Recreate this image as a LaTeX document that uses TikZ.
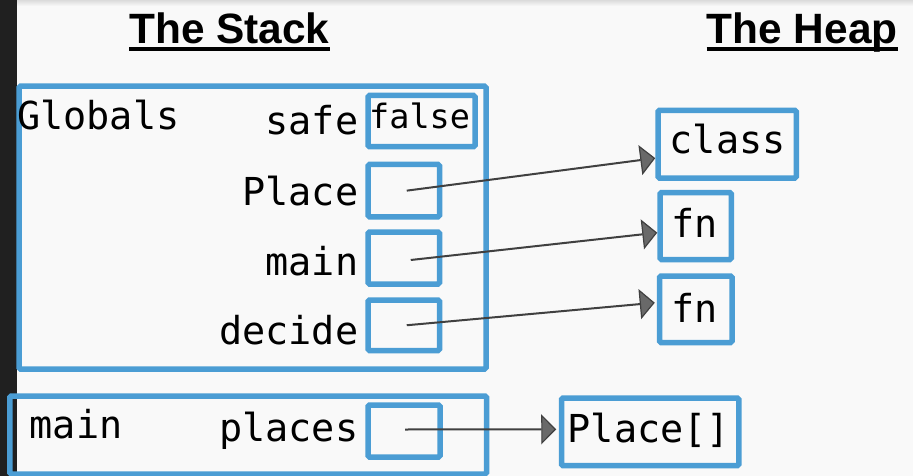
\documentclass[tikz,border=0pt]{standalone}
\usepackage{fontspec}
\setmainfont{Liberation Sans}
\newfontfamily\codefont{DejaVu Sans Mono}
\usetikzlibrary{arrows.meta}

\definecolor{memblue}{RGB}{75,157,212}
\definecolor{pagebg}{RGB}{249,249,249}
\definecolor{sidebar}{RGB}{32,32,32}
\definecolor{ptrline}{RGB}{64,64,64}
\definecolor{ptrhead}{RGB}{105,105,105}

\begin{document}
\begin{tikzpicture}[x=1pt,y=-1pt,
  membox/.style={draw=memblue,line width=5.5pt,rounded corners=1.5pt,
    inner sep=0pt,rectangle},
  heading/.style={inner sep=0pt,font=\bfseries\fontsize{42.4}{42.4}\selectfont},
  code/.style={inner sep=0pt,font=\codefont\fontsize{38.5}{38.5}\selectfont},
  smallcode/.style={inner sep=0pt,font=\codefont\fontsize{33.5}{33.5}\selectfont},
  ptr/.style={draw=ptrline,line width=2pt,
    -{Triangle[length=15pt,width=30pt,fill=ptrhead,line width=1.2pt]}}]

% page, side bar and top shadow
\useasboundingbox (0,0) rectangle (913,476);
\fill[pagebg] (0,0) rectangle (913,476);
\shade[top color=black!14,bottom color=pagebg] (0,0) rectangle (913,6);
\fill[sidebar] (0,0) rectangle (17,476);

% headings
\node[heading,anchor=base west] (stackT) at (129,43.3) {The Stack};
\node[heading,anchor=base west] (heapT) at (706.5,43.3) {The Heap};
\draw[line width=4pt] ([yshift=-5.7pt]stackT.base west) -- ([yshift=-5.7pt]stackT.base east);
\draw[line width=4pt] ([yshift=-5.7pt]heapT.base west) -- ([yshift=-5.7pt]heapT.base east);

% stack frames
\node[membox,minimum width=467pt,minimum height=282.8pt] (globals) at (252.5,227.6) {};
\node[membox,minimum width=476.7pt,minimum height=78pt] (mainframe) at (248.15,435) {};

% frame labels
\node[code,anchor=base west] (globalsL) at (17,129.3) {Globals};
\node[code,anchor=base west] (mainL) at (29.5,438.3) {main};

% variable names
\node[code,anchor=base east] (safeL) at (358.5,135) {safe};
\node[code,anchor=base east] (placeL) at (358.5,205) {Place};
\node[code,anchor=base east] (mainvL) at (358.5,275) {main};
\node[code,anchor=base east] (decideL) at (358.5,344.3) {decide};
\node[code,anchor=base east] (placesL) at (358.5,441.7) {places};

% variable slots
\node[membox,minimum width=107pt,minimum height=51.2pt] (safeS) at (421.5,121.1) {};
\node[smallcode,anchor=base west] (falseV) at (369,128.3) {false};
\node[membox,minimum width=71.5pt,minimum height=52.3pt] (placeS) at (403.75,190.65) {};
\node[membox,minimum width=71.5pt,minimum height=52pt] (mainS) at (403.75,258) {};
\node[membox,minimum width=71.5pt,minimum height=50.5pt] (decideS) at (403.75,325.25) {};
\node[membox,minimum width=72pt,minimum height=52pt] (placesS) at (404,431) {};

% heap objects
\node[membox,minimum width=138.3pt,minimum height=67.7pt] (classH) at (727.15,144.15) {};
\node[code,anchor=base west] (classT) at (669.5,153.3) {class};
\node[membox,minimum width=71.3pt,minimum height=67pt] (fnA) at (695.65,226) {};
\node[code,anchor=base west] (fnAT) at (671,237) {fn};
\node[membox,minimum width=72.5pt,minimum height=66.5pt] (fnB) at (695.75,309.25) {};
\node[code,anchor=base west] (fnBT) at (671,322.3) {fn};
\node[membox,minimum width=177.3pt,minimum height=67.7pt] (arrH) at (650.15,431.85) {};
\node[code,anchor=base west] (arrT) at (567.5,442.3) {Place[]};

% pointer ends on the heap objects
\path (classH.west) ++(0,14) coordinate (classIn);
\path (fnA.west) ++(0,6.7) coordinate (fnAIn);
\path (fnB.west) ++(-2,-6.5) coordinate (fnBIn);
\path (arrH.west) ++(-2.5,-2.5) coordinate (arrIn);

% pointers
\draw[ptr] ([shift={(3,0)}]placeS.center) -- (classIn);
\draw[ptr] ([shift={(7,2)}]mainS.center) -- (fnAIn);
\draw[ptr] ([shift={(3,0)}]decideS.center) -- (fnBIn);
\draw[ptr] ([shift={(1,-1.5)}]placesS.center) -- (arrIn);
\end{tikzpicture}
\end{document}
